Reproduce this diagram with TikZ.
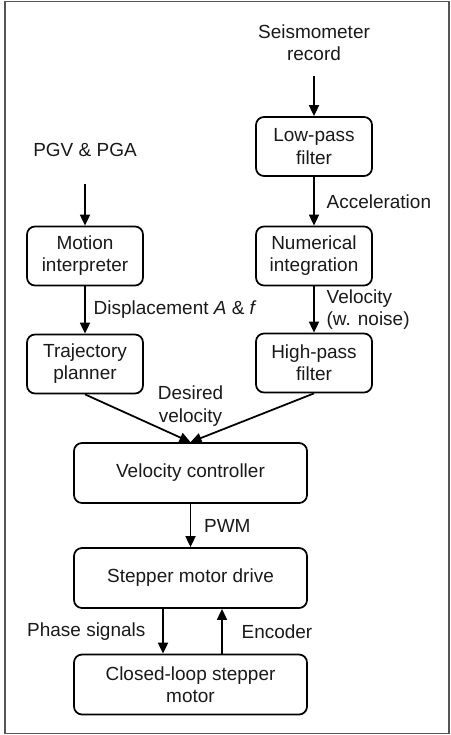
\documentclass[tikz,border=0pt]{standalone}
\usepackage{fontspec}
\setmainfont{Liberation Sans}
\usetikzlibrary{arrows.meta,positioning}
\definecolor{frame}{RGB}{85,85,85}
\definecolor{ink}{RGB}{25,25,25}

\begin{document}
\begin{tikzpicture}[every node/.style={font=\fontsize{10.8}{12.6}\selectfont,text=ink},
  b/.style={rounded corners=.16cm,draw,line width=1pt,minimum width=2.32cm,minimum height=1.18cm,align=center,inner sep=1pt},
  wb/.style={b,minimum width=4.66cm,minimum height=1.2cm},
  lbl/.style={align=center,inner sep=1pt},
  a/.style={-{Triangle[length=.22cm,width=.2cm]},line width=1pt}]
  \useasboundingbox (0,0) rectangle (9,-14.7);
  \draw[frame,line width=.8pt] (.1,-.03) rectangle (8.98,-14.67);
  % left branch
  \node[lbl] (pgv) at (1.70,-3.0) {PGV \& PGA};
  \node[b] (mi) at (1.70,-5.12) {Motion\\interpreter};
  \node[b] (tp) at (1.70,-7.28) {Trajectory\\planner};
  % right branch
  \node[lbl] (seis) at (6.28,-.86) {Seismometer\\record};
  \node[b] (lp) at (6.28,-2.93) {Low-pass\\filter};
  \node[b] (ni) at (6.28,-5.12) {Numerical\\integration};
  \node[b] (hp) at (6.28,-7.26) {High-pass\\filter};
  % common chain
  \node[wb] (vc) at (3.81,-9.46) {Velocity controller};
  \node[wb] (smd) at (3.81,-11.56) {Stepper motor drive};
  \node[wb] (cl) at (3.81,-13.69) {Closed-loop stepper\\motor};
  \node[lbl,above=.28cm of vc] (dv) {Desired\\velocity};
  \draw[a] ([yshift=-.5cm]pgv.south) -- (mi);
  \draw[a] ([yshift=-.25cm]seis.south) -- (lp);
  \draw[a] (lp) -- node[lbl,right=.2cm] {Acceleration} (ni);
  \draw[a] (mi) -- node[lbl,right=.12cm] {Displacement \textit{A} \& \textit{f}} (tp);
  \draw[a] (ni) -- node[lbl,right=.2cm,align=left] {Velocity\\(w. noise)} (hp);
  \draw[a] (tp.south) -- (vc.north);
  \draw[a] (hp.south) -- (vc.north);
  \draw[a] (vc) -- node[lbl,right=.22cm] {PWM} (smd);
  \draw[a] ([xshift=-.55cm]smd.south) -- node[lbl,left=.3cm] {Phase signals} ([xshift=-.55cm]cl.north);
  \draw[a] ([xshift=.63cm]cl.north) -- node[lbl,right=.34cm] {Encoder} ([xshift=.63cm]smd.south);
\end{tikzpicture}
\end{document}
